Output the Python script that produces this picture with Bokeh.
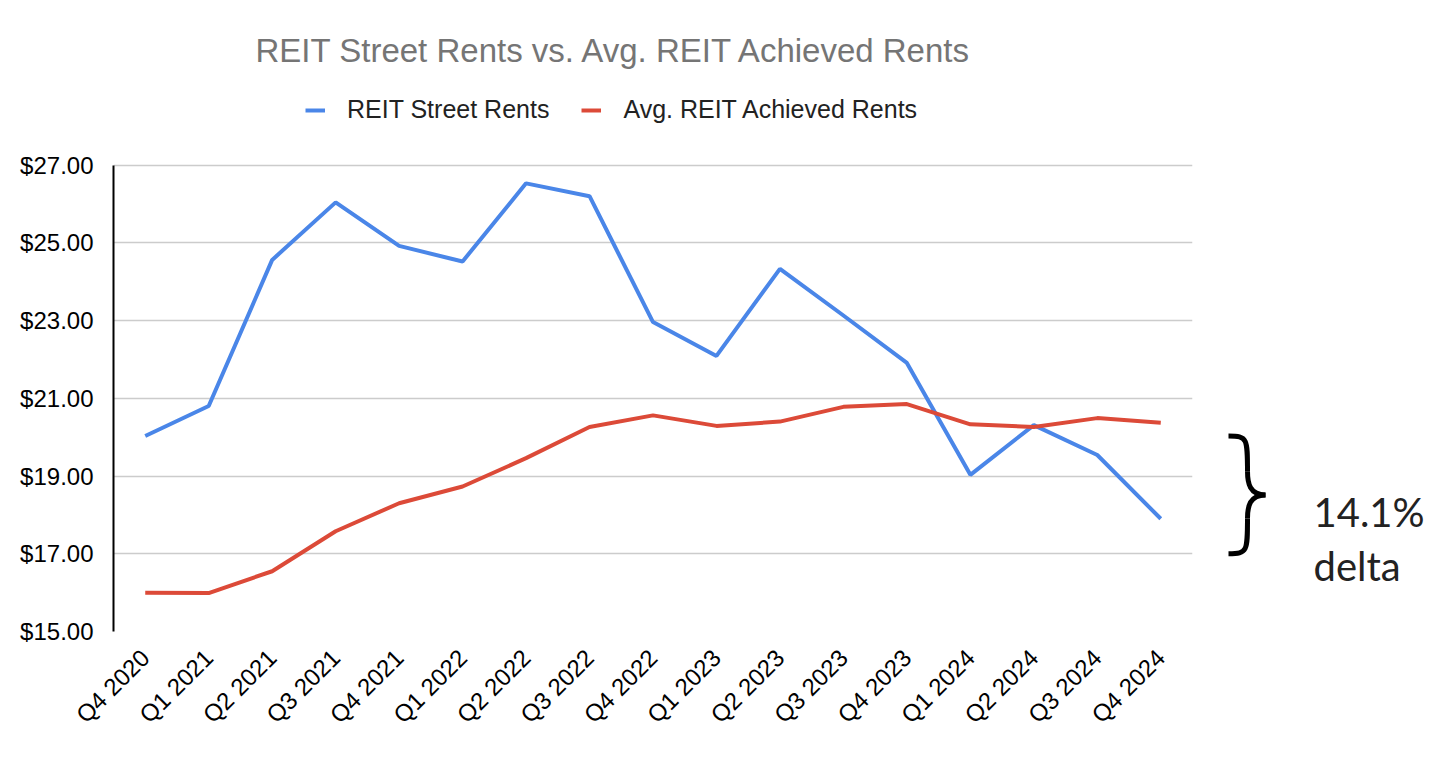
from bokeh.plotting import figure
from bokeh.models import (ColumnDataSource, Range1d, FactorRange, FixedTicker,
                          PrintfTickFormatter, Legend, LegendItem)
from bokeh.layouts import row
from bokeh.core.properties import value
from bokeh.embed import file_html
from bokeh.resources import INLINE

# ---------------- data ----------------
QUARTERS = ["Q4 2020", "Q1 2021", "Q2 2021", "Q3 2021", "Q4 2021",
            "Q1 2022", "Q2 2022", "Q3 2022", "Q4 2022",
            "Q1 2023", "Q2 2023", "Q3 2023", "Q4 2023",
            "Q1 2024", "Q2 2024", "Q3 2024", "Q4 2024"]
STREET_RENTS = [20.03, 20.80, 24.56, 26.04, 24.92, 24.52, 26.53, 26.20, 22.96,
                22.09, 24.33, 23.13, 21.91, 19.03, 20.31, 19.54, 17.90]
ACHIEVED_RENTS = [16.00, 15.99, 16.55, 17.58, 18.30, 18.73, 19.46, 20.26, 20.56,
                  20.29, 20.40, 20.78, 20.85, 20.33, 20.26, 20.49, 20.37]
Y_TICKS = [15, 17, 19, 21, 23, 25, 27]
Y_MIN, Y_MAX = 15, 27
TITLE = "REIT Street Rents vs. Avg. REIT Achieved Rents"
SERIES_NAMES = ["REIT Street Rents", "Avg. REIT Achieved Rents"]
DELTA_TEXT = ["14.1%", "delta"]
BRACE_TOP, BRACE_BOTTOM = 20.03, 17.00   # vertical extent of the brace ($)

# layout constants
Y_HEADROOM = 1.97          # empty space above $27 that holds the legend
W_MAIN, W_SIDE, H = 1208, 230, 740
BORDER_TOP, BORDER_BOTTOM = 88, 107

BLUE = "#4a86e8"
RED = "#dc4a38"
FONT = "Liberation Sans"

src = ColumnDataSource(dict(q=QUARTERS, street=STREET_RENTS, achieved=ACHIEVED_RENTS))

p = figure(width=W_MAIN, height=H, x_range=FactorRange(*QUARTERS, range_padding=0),
           y_range=Range1d(Y_MIN, Y_MAX + Y_HEADROOM), output_backend="svg",
           toolbar_location=None, min_border_left=113, min_border_right=16,
           min_border_top=BORDER_TOP, min_border_bottom=BORDER_BOTTOM)
p.outline_line_color = None
p.background_fill_color = "white"
p.border_fill_color = "white"

p.title.text = TITLE
p.title.align = "left"
p.title.offset = 142
p.title.text_font = FONT
p.title.text_font_size = "33px"
p.title.text_color = "#757575"
p.title.text_font_style = "normal"
p.title.standoff = 40

r1 = p.line("q", "street", source=src, line_color=BLUE, line_width=4)
r2 = p.line("q", "achieved", source=src, line_color=RED, line_width=4)

# axes
p.yaxis.ticker = FixedTicker(ticks=Y_TICKS)
p.yaxis.bounds = (Y_MIN, Y_MAX)
p.yaxis.formatter = PrintfTickFormatter(format="$%.2f")
p.yaxis.axis_line_color = "black"
p.yaxis.axis_line_width = 2
p.yaxis.major_tick_line_color = None
p.yaxis.minor_tick_line_color = None
p.yaxis.major_label_text_font = FONT
p.yaxis.major_label_text_font_size = "24px"
p.yaxis.major_label_text_color = "black"
p.yaxis.major_label_standoff = 14

p.xaxis.axis_line_color = None
p.xaxis.major_tick_line_color = None
p.xaxis.major_label_orientation = 0.7854
p.xaxis.major_label_text_font = FONT
p.xaxis.major_label_text_font_size = "24px"
p.xaxis.major_label_text_color = "black"
p.xaxis.major_label_standoff = 16

p.xgrid.grid_line_color = None
p.ygrid.ticker = FixedTicker(ticks=Y_TICKS)
p.ygrid.grid_line_color = "#cccccc"
p.ygrid.grid_line_width = 1.5

legend = Legend(items=[LegendItem(label=SERIES_NAMES[0], renderers=[r1]),
                       LegendItem(label=SERIES_NAMES[1], renderers=[r2])],
                orientation="horizontal", location=(192, 507),
                label_text_font=FONT, label_text_font_size="25px",
                label_text_color="#222222", glyph_width=20, glyph_height=20,
                label_standoff=22, spacing=32, padding=0, margin=0,
                border_line_color=None, background_fill_alpha=0)
p.add_layout(legend, "center")

# ---------------- annotation panel (brace + delta text) ----------------
p2 = figure(width=W_SIDE, height=H, x_range=Range1d(0, W_SIDE),
            y_range=Range1d(Y_MIN, Y_MAX + Y_HEADROOM), output_backend="svg",
            toolbar_location=None, min_border_left=0, min_border_right=0,
            min_border_top=BORDER_TOP, min_border_bottom=BORDER_BOTTOM)
p2.axis.visible = False
p2.grid.visible = False
p2.outline_line_color = None

x0, x1, x2 = 20, 39, 57
yt, yb = BRACE_TOP, BRACE_BOTTOM
ym = (yt + yb) / 2
hh = yt - yb
p2.bezier(x0=[x0, x1, x2, x1], y0=[yt, yt - 0.30 * hh, ym, ym - 0.20 * hh],
          x1=[x1, x2, x1, x0], y1=[yt - 0.30 * hh, ym, ym - 0.20 * hh, yb],
          cx0=[x1, x1, x1 + 2, x1], cy0=[yt, ym + 0.10 * hh, ym, yb + 0.02 * hh],
          cx1=[x1, x1 + 2, x1, x1], cy1=[yt - 0.02 * hh, ym, ym - 0.10 * hh, yb],
          line_color="black", line_width=5)
p2.text(x=[105, 105], y=[18.08, 16.69], text=DELTA_TEXT, text_font=value("Lato"),
        text_font_size="40px", text_color="#222222", text_baseline="alphabetic",
        text_align="left")

layout = row(p, p2)
open("out.html", "w").write(file_html(layout, INLINE))
